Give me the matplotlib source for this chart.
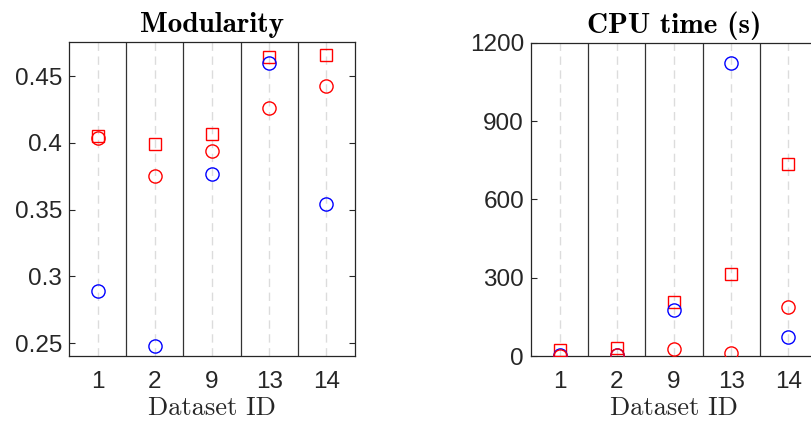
import matplotlib.pyplot as plt
import numpy as np

# dataset ids shown on the x axis
dataset_ids = ["1", "2", "9", "13", "14"]

# Modularity
mod_blue_circle = [0.289, 0.248, 0.377, 0.4595, 0.354]
mod_red_circle = [0.4038, 0.375, 0.394, 0.4258, 0.4425]
mod_red_square = [0.4053, 0.3993, 0.4063, 0.464, 0.466]

# CPU time (s)
cpu_blue_circle = [2, 5, 175, 1125, 74]
cpu_red_circle = [1, 4, 28, 13, 187]
cpu_red_square = [23, 31, 208, 315, 735]

W, H = 811, 423
fig = plt.figure(figsize=(W / 100, H / 100), dpi=100)
plt.rcParams['font.family'] = ['Liberation Sans', 'DejaVu Sans']

def panel(rect, blue_c, red_c, red_s, title, ylim, yticks, yticklabels):
    ax = fig.add_axes(rect)
    x = np.arange(len(dataset_ids))
    for xi in x:
        ax.axvline(xi, color='#dcdcdc', ls=(0, (6, 4)), lw=1.0, zorder=0)
    for xi in x[:-1]:
        ax.axvline(xi + 0.5, color='#333333', lw=0.9, zorder=1)
    ax.plot(x, red_s, 's', mfc='none', mec='red', ms=8.5, mew=1.0, zorder=3)
    ax.plot(x, blue_c, 'o', mfc='none', mec='blue', ms=9.5, mew=1.0, zorder=3)
    ax.plot(x, red_c, 'o', mfc='none', mec='red', ms=9.5, mew=1.0, zorder=4)
    ax.set_xlim(-0.5, len(x) - 0.5)
    ax.set_ylim(*ylim)
    ax.set_xticks(x)
    ax.set_xticklabels(dataset_ids)
    ax.set_yticks(yticks)
    ax.set_yticklabels(yticklabels)
    ax.tick_params(axis='x', length=0, labelsize=17.5, colors='#262626', pad=11)
    ax.tick_params(axis='y', direction='in', length=4, labelsize=17.5,
                   colors='#262626', right=True, width=0.8, pad=5)
    for sp in ax.spines.values():
        sp.set_color('#262626')
        sp.set_linewidth(0.9)
    ax.set_title(title, fontfamily='cmb10', fontsize=21, pad=7)
    ax.set_xlabel('Dataset ID', fontfamily='cmr10', fontsize=19, labelpad=2.5,
                  color='#262626')
    return ax

panel([69 / W, 1 - 356 / H, 286 / W, 314 / H],
      mod_blue_circle, mod_red_circle, mod_red_square, 'Modularity',
      (0.2403, 0.4755), [0.25, 0.3, 0.35, 0.4, 0.45],
      ['0.25', '0.3', '0.35', '0.4', '0.45'])

panel([531 / W, 1 - 356 / H, 286 / W, 313 / H],
      cpu_blue_circle, cpu_red_circle, cpu_red_square, 'CPU time (s)',
      (0, 1200), [0, 300, 600, 900, 1200],
      ['0', '300', '600', '900', '1200'])

fig.savefig('out.png', dpi=100)
